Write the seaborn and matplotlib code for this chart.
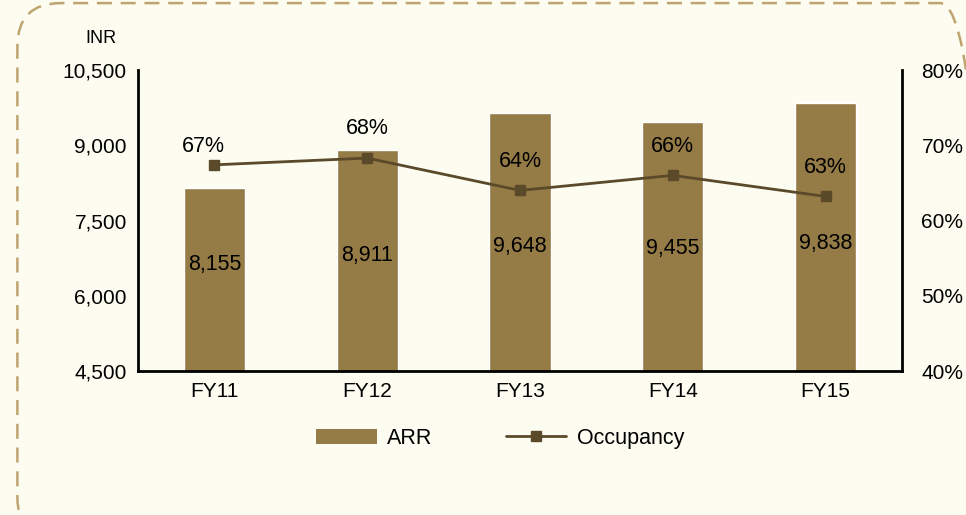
import matplotlib
matplotlib.use("Agg")
import matplotlib.pyplot as plt
import seaborn as sns
import pandas as pd
from matplotlib.patches import FancyBboxPatch, Patch
from matplotlib.lines import Line2D

# Data
years = ["FY11", "FY12", "FY13", "FY14", "FY15"]
arr = [8155, 8911, 9648, 9455, 9838]
occupancy = [67.4, 68.3, 64.0, 66.0, 63.2]  # %

df = pd.DataFrame({"Year": years, "ARR": arr, "Occupancy": occupancy})

bar_color = "#957B45"
line_color = "#5B4A2A"
bg = "#FDFCF1"

sns.set_style("white")
plt.rcParams["font.family"] = ["Liberation Sans", "DejaVu Sans"]
plt.rcParams["text.color"] = "black"
plt.rcParams["xtick.color"] = "black"
plt.rcParams["ytick.color"] = "black"

fig = plt.figure(figsize=(9.66, 5.15), dpi=100, facecolor=bg)
ax = fig.add_axes([0.1429, 0.2796, 0.7908, 0.5844])
ax.set_facecolor("none")

# dashed rounded frame (runs past the right and bottom edges)
frame = FancyBboxPatch((0.018, -0.05), 1.0, 1.044, transform=fig.transFigure,
                       boxstyle="round,pad=0,rounding_size=0.045",
                       fill=False, edgecolor="#BFA470", linestyle=(0, (6, 3.5)),
                       linewidth=1.8, mutation_aspect=966 / 515)
fig.patches.append(frame)

sns.barplot(data=df, x="Year", y="ARR", color=bar_color, width=0.4,
            saturation=1, ax=ax)
ax.set_ylim(4500, 10500)
ax.set_xlim(-0.5, 4.5)
ax.set_yticks([4500, 6000, 7500, 9000, 10500])
ax.set_yticklabels([f"{v:,}" for v in [4500, 6000, 7500, 9000, 10500]])
ax.set_xlabel("")
ax.set_ylabel("")
ax.tick_params(axis="both", labelsize=15, length=0, pad=8)
for s in ["top", "right"]:
    ax.spines[s].set_visible(False)
for s in ["left", "bottom"]:
    ax.spines[s].set_color("black")
    ax.spines[s].set_linewidth(2)

# bar value labels
for i, v in enumerate(arr):
    ypos = 0.5 * ((v + 4500) / 2) + 0.5 * 6900
    ax.text(i, ypos, f"{v:,}", ha="center", va="center", fontsize=15.5)

ax2 = ax.twinx()
ax2.plot(range(len(years)), occupancy, color=line_color, linewidth=2,
         marker="s", markersize=7, markerfacecolor=line_color)
ax2.set_ylim(40, 80)
ax2.set_yticks([40, 50, 60, 70, 80])
ax2.set_yticklabels([f"{v}%" for v in [40, 50, 60, 70, 80]])
ax2.tick_params(axis="y", labelsize=15, length=0, pad=14)
for s in ["top", "left", "bottom"]:
    ax2.spines[s].set_visible(False)
ax2.spines["right"].set_color("black")
ax2.spines["right"].set_linewidth(2)

for i, v in enumerate(occupancy):
    ax2.annotate(f"{round(v)}%", (i, v), xytext=(-8 if i == 0 else 0, 13 if i == 0 else 21),
                 textcoords="offset points", ha="center", va="center",
                 fontsize=15.5)

fig.text(0.104, 0.926, "INR", ha="center", va="center", fontsize=13)

handles = [Patch(facecolor=bar_color, edgecolor="none", label="ARR"),
           Line2D([0], [0], color=line_color, linewidth=2, marker="s",
                  markersize=7, label="Occupancy")]
fig.legend(handles=handles, loc="center", bbox_to_anchor=(0.518, 0.149),
           ncol=2, frameon=False, fontsize=15.5, handlelength=2.8,
           columnspacing=3.4, handletextpad=0.5)

fig.savefig("out.png", dpi=100, facecolor=bg)
